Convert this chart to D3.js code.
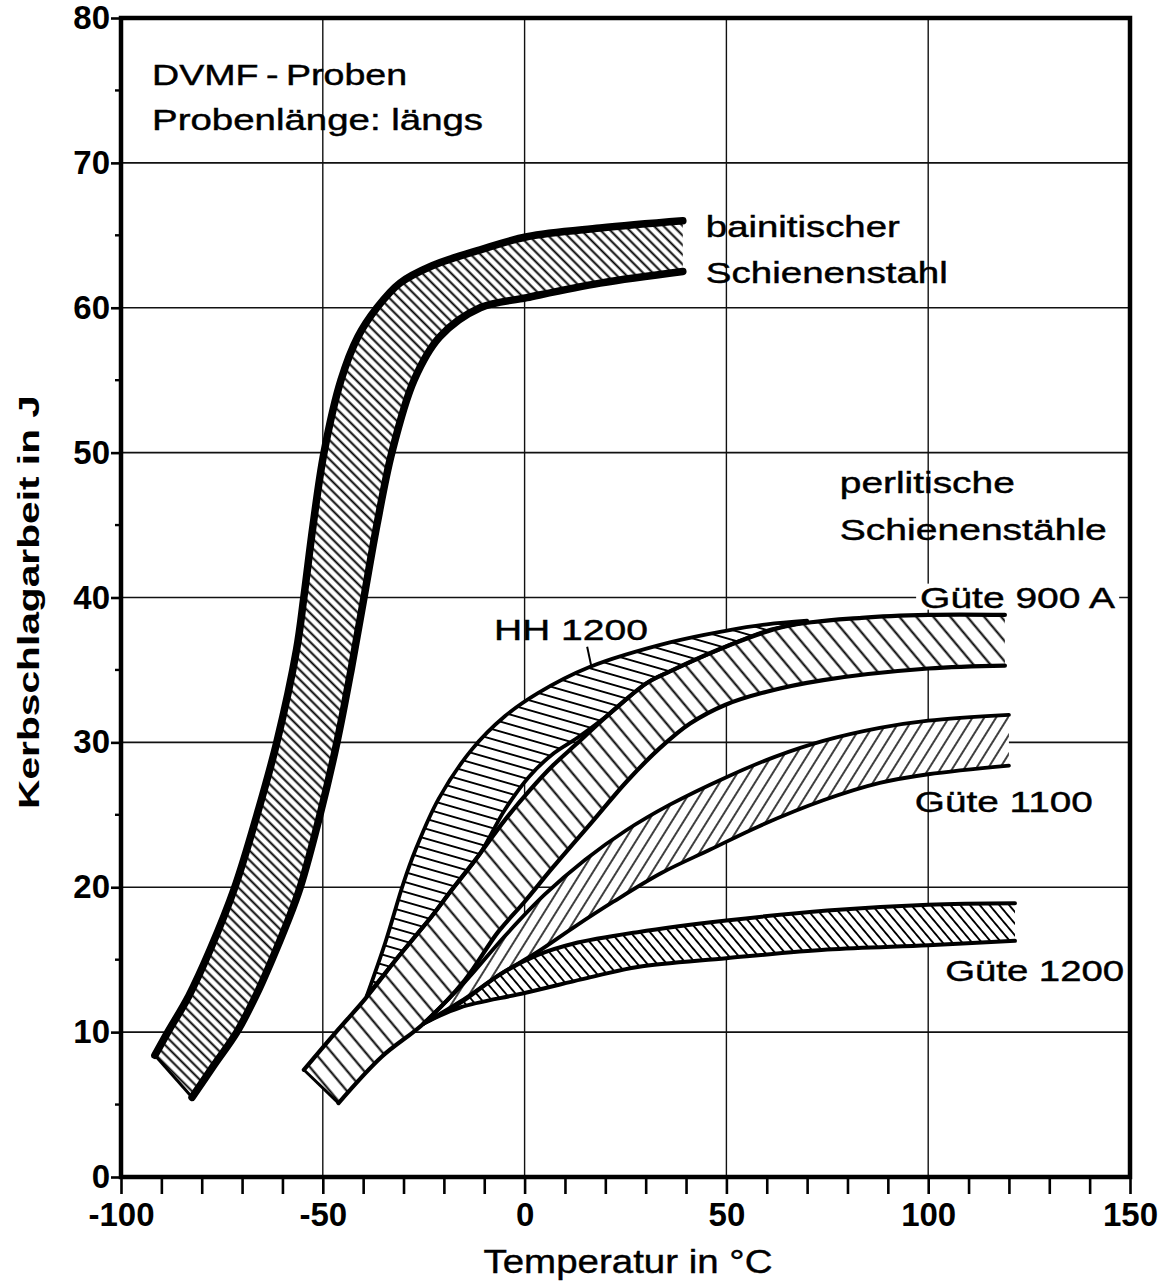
<!DOCTYPE html>
<html>
<head>
<meta charset="utf-8">
<script src="https://cdn.jsdelivr.net/npm/d3@7"></script>
<style>
  body { margin: 0; background: #fff; }
  text { font-family: "Liberation Sans", Arial, sans-serif; fill: #000; }
</style>
</head>
<body>
<script>
// ticks
var xMajor = [-100, -50, 0, 50, 100, 150];
var xAllTicks = [-100, -90, -80, -70, -60, -50, -40, -30, -20, -10, 0, 10, 20, 30, 40, 50, 60, 70, 80, 90, 100, 110, 120, 130, 140, 150];
var yMajor = [0, 10, 20, 30, 40, 50, 60, 70, 80];
var yMinor = [5, 15, 25, 35, 45, 55, 65, 75];

// band boundaries [Temperatur, Kerbschlagarbeit]
var bainitOben = [[-91.6, 8.4], [-88.4, 10], [-83.2, 12.5], [-77.9, 15.7], [-71.8, 20], [-66.4, 24.9], [-61.4, 30], [-56.5, 36.4], [-54.7, 40], [-52.4, 45], [-49.7, 50], [-45.5, 55], [-41.3, 58], [-36.6, 60], [-30.9, 61.7], [-22.9, 62.9], [-11, 64], [0.6, 64.9], [18.7, 65.5], [39.2, 66]];
var bainitUnten = [[-82.4, 5.5], [-77.0, 7.7], [-71.3, 10], [-66.6, 12.5], [-62.6, 15], [-58.9, 17.5], [-55.6, 20], [-50.7, 25], [-46.5, 30], [-43, 35], [-39.8, 40], [-36.6, 45], [-32.9, 50], [-27.4, 55], [-21, 58], [-11, 60], [0.6, 60.7], [18.7, 61.7], [39.2, 62.5]];

var hhOben = [[-39.1, 12.5], [-34.5, 16.2], [-30, 20.3], [-27, 22.6], [-21.3, 26.1], [-13.1, 29.5], [-4.9, 31.8], [3.3, 33.4], [16.1, 35.2], [36, 36.9], [49.8, 37.7], [60, 38.15], [70, 38.4]];
var hhUnten = [[-39.1, 12.5], [-31.3, 15.2], [-23, 18], [-18.1, 19.8], [-11.1, 22.3], [-5, 25.3], [1, 27.6], [7, 29.2], [13, 30.3], [20.3, 31.8], [30.3, 34.1], [36, 34.9], [49.8, 36.6], [60, 37.7], [70, 38.3]];

var g900Oben = [[-54.7, 7.4], [-46.1, 10.2], [-39.5, 12.3], [-31.3, 15.2], [-23, 18], [-18.1, 19.8], [-11.1, 22.3], [-5, 24.6], [1.3, 26.7], [7, 28.4], [12.9, 29.9], [20.3, 31.8], [30.3, 34.1], [36, 34.9], [49.8, 36.6], [64.5, 38.0], [83.5, 38.6], [100, 38.8], [119, 38.8]];
var g900Unten = [[-46.1, 5.1], [-35.4, 8.3], [-25, 10.6], [-14.8, 13.6], [-6.6, 16.9], [0, 19.0], [7.1, 21.4], [17, 24.6], [25.3, 27.3], [33.5, 29.6], [41, 31.3], [49.8, 32.6], [60, 33.5], [74, 34.3], [100, 35.1], [119, 35.3]];

var g1100Oben = [[-25, 10.6], [-15, 13.4], [-5, 16.6], [5, 19.5], [15, 21.9], [25, 23.9], [36, 25.7], [50, 27.6], [62, 29.0], [74, 30.1], [88, 31.0], [100, 31.5], [120, 31.9]];
var g1100Unten = [[-25, 10.6], [-16, 12.1], [-6, 14.0], [3, 15.5], [12, 17.2], [22, 19.0], [34, 21.0], [46, 22.6], [58, 24.2], [74, 26.0], [88, 27.2], [100, 27.8], [120, 28.4]];

var g1200Oben = [[-25, 10.6], [-16, 12.0], [-6, 14.0], [3, 15.3], [12, 16.1], [28, 16.9], [50, 17.7], [75, 18.4], [100, 18.8], [121.5, 18.9]];
var g1200Unten = [[-25, 10.6], [-16, 11.7], [0, 12.7], [18, 13.9], [28, 14.5], [50, 15.1], [75, 15.7], [100, 16.0], [121.5, 16.3]];

var W = 1167, H = 1287;
var svg = d3.select("body").append("svg")
    .attr("width", W)
    .attr("height", H);

var x = d3.scaleLinear().domain([-100, 150]).range([121, 1130]);
var y = d3.scaleLinear().domain([0, 80]).range([1177, 18]);

var defs = svg.append("defs");

// hatch pattern: horizontal lines rotated by angle
function hatch(id, spacing, angle, sw) {
    var p = defs.append("pattern")
        .attr("id", id)
        .attr("patternUnits", "userSpaceOnUse")
        .attr("width", 40)
        .attr("height", spacing)
        .attr("patternTransform", "rotate(" + angle + ")");
    p.append("rect").attr("width", 40).attr("height", spacing).attr("fill", "#fff");
    p.append("line")
        .attr("x1", 0).attr("x2", 40)
        .attr("y1", spacing / 2).attr("y2", spacing / 2)
        .attr("stroke", "#000")
        .attr("stroke-width", sw);
}
hatch("hBainit", 6.8, 45, 1.8);
hatch("hHH", 9.5, 16, 1.8);
hatch("h900", 13, 50, 1.9);
hatch("h1100", 10, -58, 1.7);
hatch("h1200", 7.5, 50, 1.8);

// grid
svg.append("g").selectAll("line")
    .data(yMajor.slice(1, -1))
    .enter().append("line")
    .attr("x1", x(-100)).attr("x2", x(150))
    .attr("y1", function(d) { return y(d); })
    .attr("y2", function(d) { return y(d); })
    .attr("stroke", "#111")
    .attr("stroke-width", 1.6);

svg.append("g").selectAll("line")
    .data(xMajor.slice(1, -1))
    .enter().append("line")
    .attr("y1", y(0)).attr("y2", y(80))
    .attr("x1", function(d) { return x(d); })
    .attr("x2", function(d) { return x(d); })
    .attr("stroke", "#111")
    .attr("stroke-width", 1.4);

var line = d3.line()
    .x(function(d) { return x(d[0]); })
    .y(function(d) { return y(d[1]); })
    .curve(d3.curveCatmullRom.alpha(0.5));

function bandPath(oben, unten) {
    return line(oben) + "L" + line(unten.slice().reverse()).slice(1) + "Z";
}

var bands = [
    {oben: g900Oben, unten: g900Unten, fill: "h900", sw: 4.2},
    {oben: hhOben, unten: hhUnten, fill: "hHH", sw: 3.8},
    {oben: g1100Oben, unten: g1100Unten, fill: "h1100", sw: 3.8},
    {oben: g1200Oben, unten: g1200Unten, fill: "h1200", sw: 4},
    {oben: bainitOben, unten: bainitUnten, fill: "hBainit", sw: 7.5}
];

// fills first
bands.forEach(function(b) {
    svg.append("path")
        .attr("d", bandPath(b.oben, b.unten))
        .attr("fill", "url(#" + b.fill + ")")
        .attr("stroke", "none");
});

// then outlines
bands.forEach(function(b) {
    [b.oben, b.unten].forEach(function(pts) {
        svg.append("path")
            .attr("d", line(pts))
            .attr("fill", "none")
            .attr("stroke", "#000")
            .attr("stroke-width", b.sw)
            .attr("stroke-linecap", "round");
    });
});

// left end caps
[[bainitOben, bainitUnten, 3], [g900Oben, g900Unten, 3]].forEach(function(c) {
    svg.append("line")
        .attr("x1", x(c[0][0][0])).attr("y1", y(c[0][0][1]))
        .attr("x2", x(c[1][0][0])).attr("y2", y(c[1][0][1]))
        .attr("stroke", "#000")
        .attr("stroke-width", c[2]);
});

// frame
svg.append("rect")
    .attr("x", x(-100)).attr("y", y(80))
    .attr("width", x(150) - x(-100))
    .attr("height", y(0) - y(80))
    .attr("fill", "none")
    .attr("stroke", "#000")
    .attr("stroke-width", 4.5);

// x axis
var xAxis = d3.axisBottom(x)
    .tickValues(xAllTicks)
    .tickSize(17)
    .tickPadding(6)
    .tickFormat(function(d) { return xMajor.indexOf(d) >= 0 ? String(d) : ""; });

var gX = svg.append("g")
    .attr("transform", "translate(0," + y(0) + ")")
    .call(xAxis);
gX.select(".domain").remove();
gX.selectAll(".tick line").attr("stroke", "#000").attr("stroke-width", 2.6);
gX.selectAll(".tick text")
    .attr("font-size", 33)
    .attr("font-weight", "bold")
    .attr("font-family", "Liberation Sans, Arial, sans-serif")
    .attr("dy", "0.78em");

// y axis
var yAxis = d3.axisLeft(y)
    .tickValues(yMajor)
    .tickSize(10)
    .tickPadding(1)
    .tickFormat(function(d) { return String(d); });

var gY = svg.append("g")
    .attr("transform", "translate(" + x(-100) + ",0)")
    .call(yAxis);
gY.select(".domain").remove();
gY.selectAll(".tick line").attr("stroke", "#000").attr("stroke-width", 2.6);
gY.selectAll(".tick text")
    .attr("font-size", 33)
    .attr("font-weight", "bold")
    .attr("font-family", "Liberation Sans, Arial, sans-serif");

svg.append("g").selectAll("line")
    .data(yMinor)
    .enter().append("line")
    .attr("x1", x(-100) - 6).attr("x2", x(-100))
    .attr("y1", function(d) { return y(d); })
    .attr("y2", function(d) { return y(d); })
    .attr("stroke", "#000")
    .attr("stroke-width", 2.4);

// axis titles
svg.append("text")
    .attr("x", 628)
    .attr("y", 1273)
    .attr("text-anchor", "middle")
    .attr("font-size", 33)
    .attr("stroke", "#000")
    .attr("stroke-width", 0.4)
    .attr("textLength", 289)
    .attr("lengthAdjust", "spacingAndGlyphs")
    .text("Temperatur in °C");

svg.append("text")
    .attr("transform", "translate(39,602) rotate(-90)")
    .attr("text-anchor", "middle")
    .attr("font-size", 30)
    .attr("font-weight", "bold")
    .attr("textLength", 414)
    .attr("lengthAdjust", "spacingAndGlyphs")
    .text("Kerbschlagarbeit in J");

// annotations: [text, T, E, width]
var notes = [
    ["DVMF\u2009-\u2009Proben", -92.3, 75.4, 255],
    ["Probenlänge: längs", -92.3, 72.3, 331],
    ["bainitischer", 44.9, 64.9, 194],
    ["Schienenstahl", 44.9, 61.7, 242],
    ["perlitische", 78.1, 47.2, 175],
    ["Schienenstähle", 78.1, 44.0, 267],
    ["Güte 900 A", 98.0, 39.3, 195],
    ["HH 1200", -7.6, 37.1, 154],
    ["Güte 1100", 96.7, 25.2, 178],
    ["Güte 1200", 104.2, 13.5, 179]
];

// white patch behind the label that sits on the 40 grid line
svg.append("rect")
    .attr("x", x(98.0) - 4).attr("y", y(39.3) - 24)
    .attr("width", 203).attr("height", 26)
    .attr("fill", "#fff");

svg.append("g").selectAll("text")
    .data(notes)
    .enter().append("text")
    .attr("x", function(d) { return x(d[1]); })
    .attr("y", function(d) { return y(d[2]); })
    .attr("font-size", 30)
    .attr("stroke", "#000")
    .attr("stroke-width", 0.45)
    .attr("textLength", function(d) { return d[3]; })
    .attr("lengthAdjust", "spacingAndGlyphs")
    .text(function(d) { return d[0]; });

// HH 1200 leader
svg.append("line")
    .attr("x1", x(15.5)).attr("y1", y(36.6))
    .attr("x2", x(16.5)).attr("y2", y(35.3))
    .attr("stroke", "#000")
    .attr("stroke-width", 2);
</script>
</body>
</html>
